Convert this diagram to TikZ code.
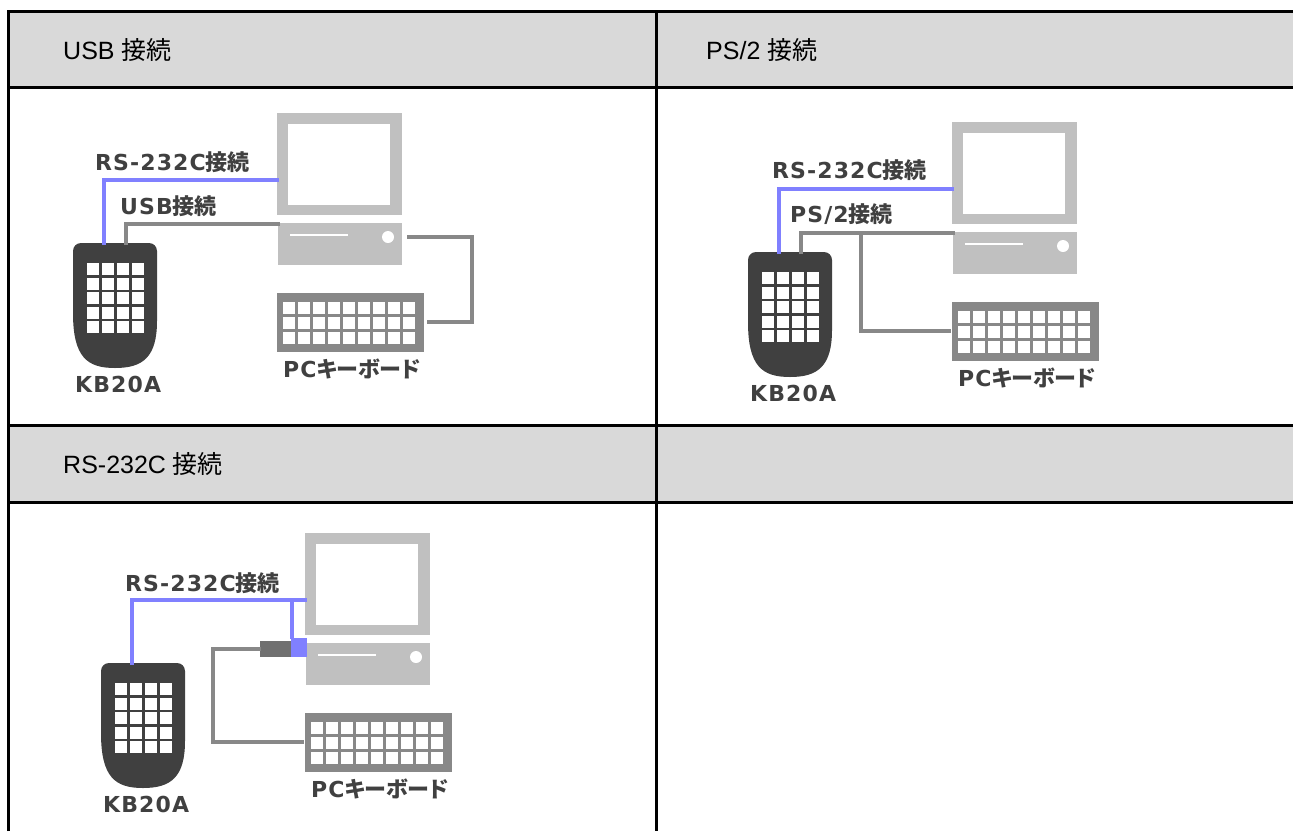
\documentclass[tikz,border=0pt]{standalone}
\usepackage{fontspec}
\setmainfont{Liberation Sans}
\newfontfamily\jpfont{Noto Sans CJK JP}
\newfontfamily\lblfont{DejaVu Sans}[LetterSpace=5]
\newfontfamily\lbljp{Noto Sans CJK JP}[RawFeature=+palt]
\usepackage{tikz}
\usetikzlibrary{calc}
\usepackage{xcolor}
\definecolor{headgray}{RGB}{217,217,217}
\definecolor{pcgray}{RGB}{192,192,192}
\definecolor{kbgray}{RGB}{136,136,136}
\definecolor{padgray}{RGB}{64,64,64}
\definecolor{cablegray}{RGB}{136,136,136}
\definecolor{cableblue}{RGB}{128,128,255}
\definecolor{pluggray}{RGB}{112,112,112}
\definecolor{lbltext}{RGB}{64,64,64}

\tikzset{
  cell/.style={line width=3pt,black},
  head/.style={anchor=west,inner sep=0pt,font=\fontsize{25}{28}\selectfont},
  lbl/.style={anchor=west,inner sep=0pt,text=lbltext,font=\lblfont\bfseries\fontsize{22}{24}\selectfont},
  rsline/.style={draw=cableblue,line width=4.5pt},
  psline/.style={draw=cablegray,line width=4.5pt},
}

% PC, keyboard and KB20A; origin is the top left of the monitor
\newcommand\pcset{%
  % monitor
  \fill[pcgray] (0,0) rectangle (125,102);
  \fill[white] (11,11) rectangle (113,92);
  % body
  \fill[pcgray] (1,110) rectangle (125,152);
  \draw[white,line width=2pt] (13,122) -- (71,122);
  \fill[white] (111,124) circle (6);
  % keyboard
  \fill[kbgray] (0,180) rectangle (147,239);
  \foreach \i in {0,...,8}
    \foreach \j in {0,1,2}
      \fill[white] ({6+15*\i},{189+15*\j}) rectangle +(12,12);
  \node[lbl] (pckb) at (6,256) {PC\lbljp キーボード};
  % KB20A
  \begin{scope}[shift={(-204,130)}]
    \fill[padgray] (0,70) [rounded corners=8pt] -- (0,0) -- (84,0) -- (84,70) [sharp corners]
      .. controls (84,114) and (70,125) .. (42,125)
      .. controls (14,125) and (0,114) .. (0,70) -- cycle;
    \foreach \i in {0,...,3}
      \foreach \j in {0,...,4}
        \fill[white] ({14+15*\i},{20+14.5*\j}) rectangle +(12,12);
  \end{scope}
  \node[lbl] (kb20a) at (-202,271) {KB20A};
  % cable ends
  \coordinate (pad-rs) at (-173,132);
  \coordinate (pad-kb) at (-151,132);
  \coordinate (mon-rs) at (2,67);
  \coordinate (body-in) at (3,111);
  \coordinate (body-out) at (130,124);
  \coordinate (kb-in) at (-1,209);
  \coordinate (kb-out) at (150,209);
}

\begin{document}
\begin{tikzpicture}[x=1pt,y=-1pt]
  \useasboundingbox (0,0) rectangle (1293,831);
  % table
  \fill[headgray] (8.5,11) rectangle (1293,87.5);
  \fill[headgray] (8.5,425.5) rectangle (1293,502.5);
  \draw[cell] (8.5,831) |- (1293,11);
  \draw[cell] (8.5,87.5) -- (1293,87.5);
  \draw[cell] (8.5,425.5) -- (1293,425.5);
  \draw[cell] (8.5,502.5) -- (1293,502.5);
  \draw[cell] (656,11) -- (656,831);
  \node[head] (h-usb) at (63,50) {USB \jpfont 接続};
  \node[head] (h-ps2) at (706,50) {PS/2 \jpfont 接続};
  \node[head] (h-rs) at (63,464) {RS-232C \jpfont 接続};

  % USB
  \begin{scope}[shift={(277,113)},name prefix=usb-]
    \pcset
    \node[lbl] (rs) at (-182,49) {RS-232C\lbljp 接続};
    \node[lbl] (usb) at (-157,93) {USB\lbljp 接続};
    \draw[rsline] (pad-rs) |- (mon-rs);
    \draw[psline] (pad-kb) |- (body-in);
    \draw[psline] (body-out) -- ++(65,0) |- (kb-out);
  \end{scope}

  % PS/2
  \begin{scope}[shift={(952,122)},name prefix=ps-]
    \pcset
    \node[lbl] (rs) at (-180,48) {RS-232C\lbljp 接続};
    \node[lbl] (ps2) at (-162,92) {PS/2\lbljp 接続};
    \draw[rsline] (pad-rs) |- (mon-rs);
    \draw[psline] (pad-kb) |- (body-in);
    \coordinate (tee) at (-91,111);
    \draw[psline] (tee) |- (kb-in);
  \end{scope}

  % RS-232C
  \begin{scope}[shift={(305,533)},name prefix=rs-]
    \pcset
    \node[lbl] (rs) at (-180,50) {RS-232C\lbljp 接続};
    \draw[rsline] (pad-rs) |- (mon-rs);
    \fill[pluggray] (-45,108) rectangle (-14,124);
    \fill[cableblue] (-14,105) rectangle (2,124);
    \coordinate (tee) at (-13,67);
    \coordinate (blue-plug) at (-13,106);
    \coordinate (gray-plug) at (-44,116);
    \draw[rsline] (tee) -- (blue-plug);
    \draw[psline] (gray-plug) -- ++(-48,0) |- (kb-in);
  \end{scope}
\end{tikzpicture}
\end{document}
